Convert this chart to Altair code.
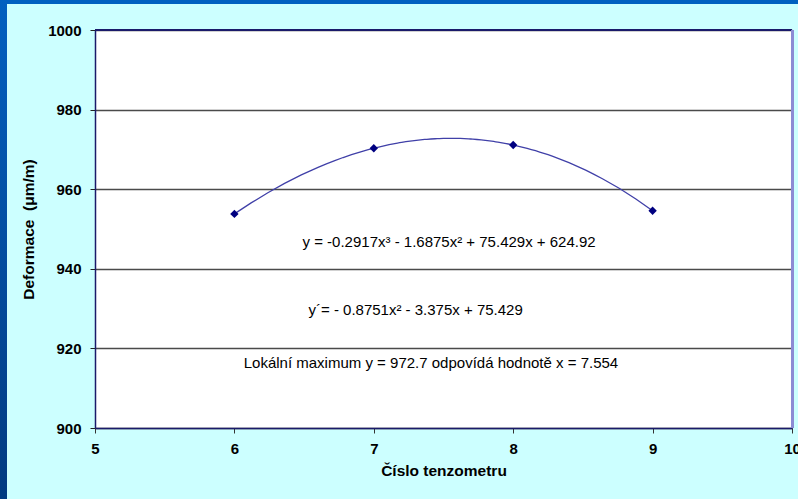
import altair as alt
import pandas as pd

# Data
tenzometr = [6, 7, 8, 9]
deformace = [953.8, 970.3, 971.1, 954.6]

y_ticks = [900, 920, 940, 960, 980, 1000]
x_ticks = [5, 6, 7, 8, 9, 10]

ann_text = [
    "y = -0.2917x³ - 1.6875x² + 75.429x + 624.92",
    "y´= - 0.8751x² - 3.375x + 75.429",
    "Lokální maximum y = 972.7 odpovídá hodnotě x = 7.554",
]
ann_x = [7.54, 7.30, 7.41]
ann_y = [946.7, 929.6, 916.3]

df = pd.DataFrame({"x": tenzometr, "y": deformace})
ann = pd.DataFrame({"t": ann_text, "x": ann_x, "y": ann_y})

W, H = 697, 398
FONT = "Liberation Sans"

xs = alt.Scale(domain=[5, 10], nice=False, zero=False)
ys = alt.Scale(domain=[900, 1000], nice=False, zero=False)

base = alt.Chart(df)

points = base.mark_point(shape="diamond", filled=True, size=70, color="#000080", opacity=1).encode(
    x=alt.X("x:Q", scale=xs, axis=alt.Axis(
        values=x_ticks, format="d", title="Číslo tenzometru", grid=False, labelFlush=False,
        domainColor="#1a1a6a", domainWidth=1.5, tickColor="#333333", tickSize=5,
        labelFont=FONT, labelFontSize=15, labelFontWeight="bold", labelColor="#000000",
        labelPadding=8, titleFont=FONT, titleFontSize=15.5, titleFontWeight="bold",
        titleColor="#000000", titlePadding=7)),
    y=alt.Y("y:Q", scale=ys, axis=alt.Axis(
        values=y_ticks, format="d", title="Deformace\u00a0\u00a0(μm/m)", grid=True,
        labelFlush=False,
        gridColor="#4a4a4a", gridWidth=1.5, domainColor="#1a1a6a", domainWidth=1.5,
        tickColor="#222222", tickSize=5, labelFont=FONT, labelFontSize=15,
        labelFontWeight="bold", labelColor="#000000", labelPadding=9,
        titleFont=FONT, titleFontSize=15.5, titleFontWeight="bold",
        titleColor="#000000", titlePadding=11)),
)

curve = base.transform_regression(
    "x", "y", method="poly", order=3, extent=[6, 9]
).mark_line(color="#4040a8", strokeWidth=1.3).encode(
    x=alt.X("x:Q", scale=xs), y=alt.Y("y:Q", scale=ys)
)

texts = alt.Chart(ann).mark_text(font=FONT, fontSize=15, color="#000000", align="center", baseline="middle").encode(
    x=alt.X("x:Q", scale=xs), y=alt.Y("y:Q", scale=ys), text="t:N"
)

one = alt.Data(values=[{"a": 1}])

top_border = alt.Chart(one).mark_rule(color="#1a1a6a", strokeWidth=2, clip=False).encode(
    x=alt.value(0), x2=alt.value(W), y=alt.value(0)
)
right_border = alt.Chart(one).mark_rule(color="#8c8cd4", strokeWidth=3, clip=False).encode(
    x=alt.value(W + 0.5), y=alt.value(0), y2=alt.value(H)
)

top_band = alt.Chart(one).mark_rect(color="#0060c0", clip=False).encode(
    x=alt.value(-95), x2=alt.value(W + 10), y=alt.value(-30), y2=alt.value(-26)
)
left_band = alt.Chart(one).mark_rect(
    clip=False,
    fill=alt.LinearGradient(
        gradient="linear", x1=0, y1=0, x2=0, y2=1,
        stops=[alt.GradientStop(offset=0, color="#0060c0"),
               alt.GradientStop(offset=1, color="#003a80")]),
).encode(
    x=alt.value(-95), x2=alt.value(-88), y=alt.value(-30), y2=alt.value(H + 71)
)

chart = alt.layer(
    top_band, left_band, curve, points, texts, top_border, right_border
).properties(
    width=W, height=H,
    autosize=alt.AutoSizeParams(type="none"),
    padding={"left": 95, "top": 30, "right": 6, "bottom": 71},
    background="#ccffff",
).configure_view(
    fill="#ffffff", stroke=None
)

chart.save("out.html", embed_options={"renderer": "svg", "actions": False})
